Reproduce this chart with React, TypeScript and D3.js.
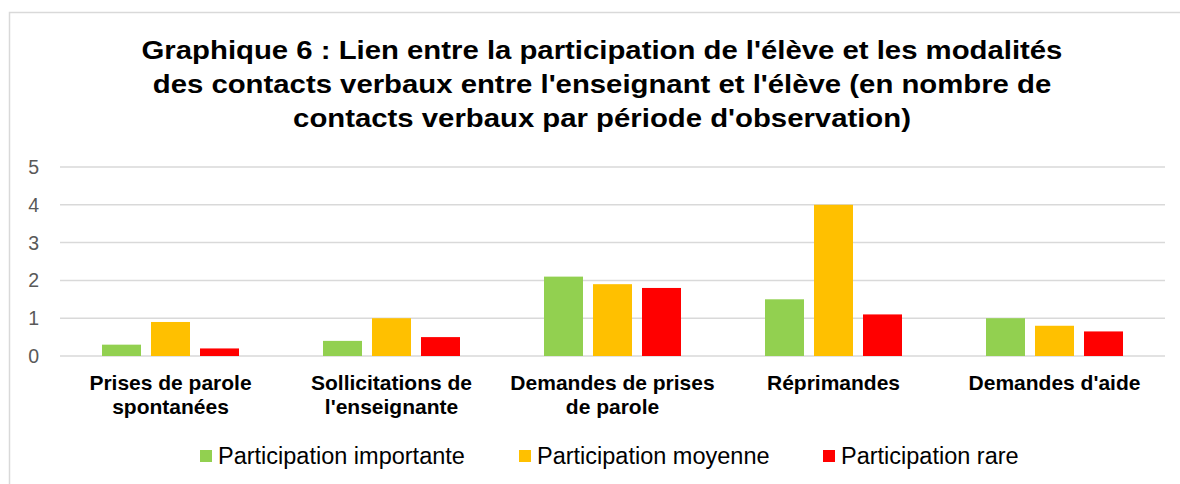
import * as d3 from "d3";

const categories = [
  ["Prises de parole", "spontanées"],
  ["Sollicitations de", "l'enseignante"],
  ["Demandes de prises", "de parole"],
  ["Réprimandes"],
  ["Demandes d'aide"],
];
const seriesNames = ["Participation importante", "Participation moyenne", "Participation rare"];
const importante = [0.3, 0.4, 2.1, 1.5, 1.0];
const moyenne = [0.9, 1.0, 1.9, 4.0, 0.8];
const rare = [0.2, 0.5, 1.8, 1.1, 0.65];
const yTicks = [0, 1, 2, 3, 4, 5];
const titleLines = [
  "Graphique 6 : Lien entre la participation de l'élève et les modalités",
  "des contacts verbaux entre l'enseignant et l'élève (en nombre de",
  "contacts verbaux par période d'observation)",
];
const colors = ["#92d050", "#ffc000", "#ff0000"];

export default function App() {
  const width = 1180;
  const height = 484;
  const left = 60, right = 1165, top = 167, bottom = 356;
  const values = [importante, moyenne, rare];

  const x = d3.scaleBand<number>().domain(d3.range(categories.length)).range([left, right]);
  const inner = d3.scaleBand<number>().domain([0, 1, 2]).range([42, 179]).paddingInner(10 / 49);
  const y = d3.scaleLinear().domain([0, 5]).range([bottom, top]);
  const font = "Arial, 'Liberation Sans', sans-serif";

  const legendX = [200, 519, 823];

  return (
    <svg width={width} height={height} style={{ position: "absolute", left: 0, top: 0, background: "#fff" }} fontFamily={font}>
      <rect x={9.5} y={12.5} width={1300} height={600} fill="#fff" stroke="#d9d9d9" strokeWidth={1.5} />
      {/* title text in the source is a bit wider than the font gives */}
      <g transform="translate(602,0) scale(1.15,1)">
        {titleLines.map((t, i) => (
          <text key={i} x={0} y={59 + i * 34} textAnchor="middle" fontWeight="bold" fontSize={25.5} fill="#000">{t}</text>
        ))}
      </g>
      {yTicks.map((t) => (
        <g key={t}>
          <line x1={left} x2={right} y1={y(t)} y2={y(t)} stroke="#d9d9d9" strokeWidth={1.5} />
          <text x={39} y={y(t) + 7} textAnchor="end" fontSize={19.5} fill="#595959">{t}</text>
        </g>
      ))}
      {values.map((s, si) => (
        <g key={si} fill={colors[si]}>
          {s.map((v, ci) => (
            <rect key={ci} x={(x(ci) as number) + (inner(si) as number)} y={y(v)} width={inner.bandwidth()} height={y(0) - y(v)} />
          ))}
        </g>
      ))}
      {categories.map((lines, ci) => (
        <text key={ci} textAnchor="middle" fontWeight="bold" fontSize={21} fill="#000">
          {lines.map((l, li) => (
            <tspan key={li} x={(x(ci) as number) + x.bandwidth() / 2} y={390 + li * 24}>{l}</tspan>
          ))}
        </text>
      ))}
      {seriesNames.map((n, i) => (
        <g key={n}>
          <rect x={legendX[i]} y={450} width={12} height={12} fill={colors[i]} />
          <text x={legendX[i] + 18} y={464} fontSize={23.5} fill="#000">{n}</text>
        </g>
      ))}
    </svg>
  );
}
